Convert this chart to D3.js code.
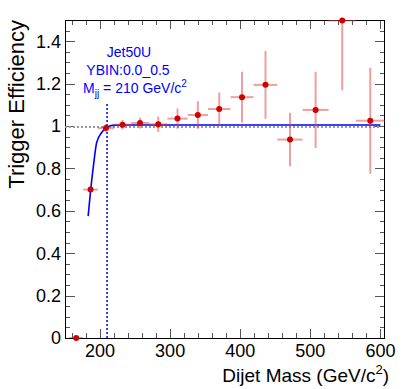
<!DOCTYPE html>
<html><head><meta charset="utf-8">
<script src="https://cdn.jsdelivr.net/npm/d3@7"></script>
<style>body{margin:0;background:#fff}svg{display:block}text{font-family:"Liberation Sans",Arial,sans-serif}</style>
</head><body>
<script>
// ---- data ----
const binLo  = [156,176,197,220,244,270,296,325,354,386,419,453,489,526,565];
const binHi  = [176,197,220,244,270,296,325,354,386,419,453,489,526,565,606];
const eff    = [0.0,0.70,0.99,1.006,1.014,1.008,1.035,1.052,1.080,1.136,1.194,0.936,1.076,1.498,1.025];
const effErr = [0.0,0.012,0.02,0.022,0.026,0.036,0.048,0.065,0.078,0.12,0.16,0.126,0.18,0.33,0.25];
const fitMass = [183,186.7,190.5,195.2,202.4,209.5,214.3,222,240,300,400,500,600];
const fitEff  = [0.575,0.701,0.811,0.922,0.969,0.992,1.001,1.004,1.005,1.005,1.005,1.005,1.005];
const xTicks = [200,300,400,500,600];
const yTicks = [0,0.2,0.4,0.6,0.8,1,1.2,1.4];
const mjjCut = 210;
const refLevel = 0.995;
const labels = ["Jet50U","YBIN:0.0_0.5"];

const W=406,H=389;
const L=65,R=385,T=20,B=338;
const svg=d3.select("body").append("svg").attr("width",W).attr("height",H);
const x=d3.scaleLinear().domain([150,606.5]).range([L,R]);
const y=d3.scaleLinear().domain([0,1.5]).range([B,T]);

svg.append("defs").append("clipPath").attr("id","clip")
  .append("rect").attr("x",L).attr("y",T).attr("width",R-L).attr("height",B-T);

// ticks
const tk=svg.append("g").attr("stroke","#555").attr("stroke-width",1);
const xMinor=d3.range(160,601,20);
xMinor.forEach(v=>{
  const major=xTicks.includes(v); const len=major?9:5; const px=Math.round(x(v))+0.5;
  tk.append("line").attr("x1",px).attr("x2",px).attr("y1",B).attr("y2",B-len);
  tk.append("line").attr("x1",px).attr("x2",px).attr("y1",T).attr("y2",T+len);
});
const yMinor=d3.range(0,1.5001,0.05);
yMinor.forEach(v=>{
  const major=Math.abs(v*5-Math.round(v*5))<1e-6; const len=major?10:5; const py=Math.round(y(v))+0.5;
  tk.append("line").attr("x1",L).attr("x2",L+len).attr("y1",py).attr("y2",py);
  tk.append("line").attr("x1",R).attr("x2",R-len).attr("y1",py).attr("y2",py);
});

// frame
svg.append("rect").attr("x",L+0.5).attr("y",T+0.5).attr("width",R-L-1).attr("height",B-T)
  .attr("fill","none").attr("stroke","#000").attr("stroke-width",1);

// tick labels
svg.append("g").selectAll("text").data(xTicks).join("text")
  .attr("x",d=>x(d)).attr("y",357).attr("text-anchor","middle").attr("font-size",18).text(d=>d);
svg.append("g").selectAll("text").data(yTicks).join("text")
  .attr("x",61).attr("y",d=>y(d)).attr("dy","0.36em").attr("text-anchor","end").attr("font-size",18).text(d=>d);

// axis titles
const xt=svg.append("text").attr("x",389).attr("y",382).attr("text-anchor","end").attr("font-size",19);
xt.append("tspan").text("Dijet Mass (GeV/c");
xt.append("tspan").attr("font-size",13).attr("dy",-8).text("2");
xt.append("tspan").attr("dy",8).text(")");
svg.append("text").attr("transform","translate(24,20) rotate(-90)").attr("text-anchor","end")
  .attr("font-size",22).text("Trigger Efficiency");

const plot=svg.append("g").attr("clip-path","url(#clip)");

// reference level
plot.append("line").attr("x1",x(150)).attr("x2",x(600)).attr("y1",y(refLevel)).attr("y2",y(refLevel))
  .attr("stroke","#999").attr("stroke-width",2).attr("stroke-dasharray","2,2");

// fit curve
plot.append("path").datum(fitMass.map((m,i)=>[m,fitEff[i]]))
  .attr("d",d3.line().x(d=>x(d[0])).y(d=>y(d[1])).curve(d3.curveMonotoneX))
  .attr("fill","none").attr("stroke","#0000ff").attr("stroke-width",1.6);

// cut line
plot.append("line").attr("x1",x(mjjCut)).attr("x2",x(mjjCut)).attr("y1",y(0)).attr("y2",y(1.105))
  .attr("stroke","#0000ff").attr("stroke-width",1.5).attr("stroke-dasharray","2,2");

// error bars
const idx=d3.range(eff.length);
const eb=plot.append("g").attr("stroke","#e04040").attr("stroke-opacity",0.5).attr("stroke-width",2);
idx.forEach(i=>{
  const c=(binLo[i]+binHi[i])/2;
  eb.append("line").attr("x1",x(binLo[i])).attr("x2",x(binHi[i])).attr("y1",y(eff[i])).attr("y2",y(eff[i]));
  if(effErr[i]>0) eb.append("line").attr("x1",x(c)).attr("x2",x(c)).attr("y1",y(eff[i]-effErr[i])).attr("y2",y(eff[i]+effErr[i]));
});
svg.append("g").selectAll("circle").data(idx).join("circle")
  .attr("cx",i=>x((binLo[i]+binHi[i])/2)).attr("cy",i=>y(eff[i])).attr("r",3).attr("fill","#d00000");

// labels
const lg=svg.append("g").attr("fill","#0000ff").attr("font-size",14).attr("text-anchor","middle");
lg.append("text").attr("x",129).attr("y",57).text(labels[0]);
lg.append("text").attr("x",128).attr("y",75).text(labels[1]);
const m=lg.append("text").attr("x",135).attr("y",93);
m.append("tspan").text("M");
m.append("tspan").attr("font-size",10).attr("dy",4).text("jj");
m.append("tspan").attr("dy",-4).text(" = " + mjjCut + " GeV/c");
m.append("tspan").attr("font-size",10).attr("dy",-6).text("2");
</script>
</body></html>
